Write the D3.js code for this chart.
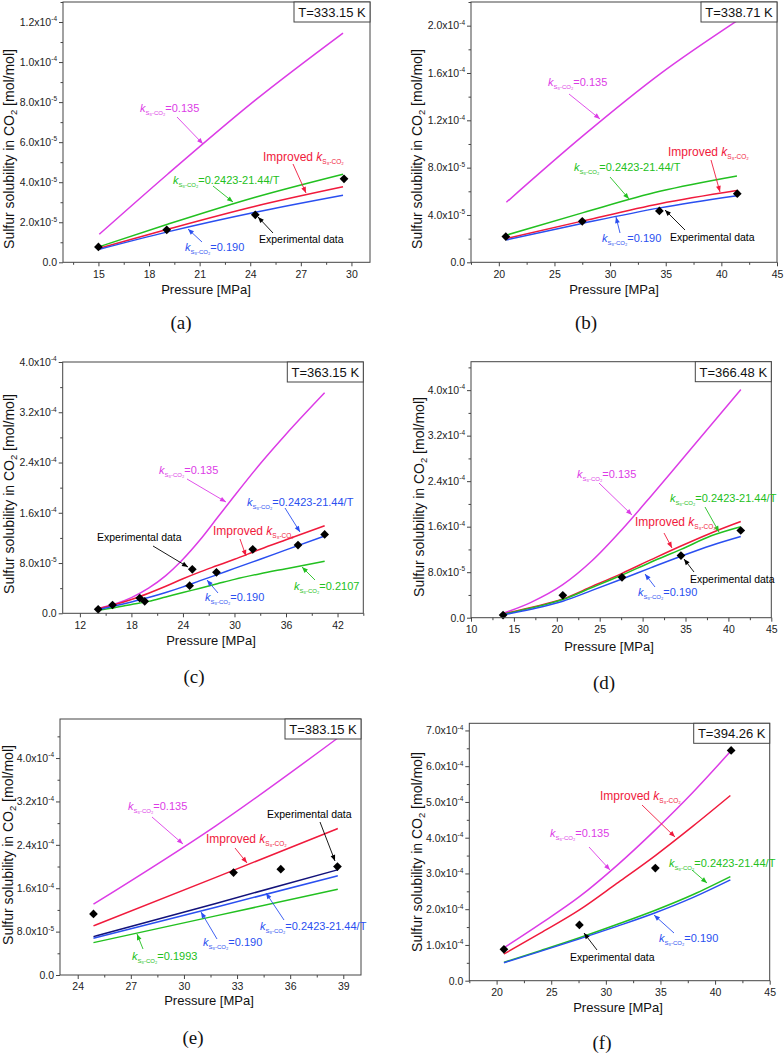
<!DOCTYPE html>
<html><head><meta charset="utf-8">
<script src="https://cdn.jsdelivr.net/npm/d3@7"></script>
<style>
body{margin:0;background:#fff;}
svg text{font-family:Arial,"Liberation Sans",Helvetica,sans-serif;}
svg text.serif{font-family:"Liberation Serif","Times New Roman",Times,serif;}
</style>
</head><body>
<svg id="chart" width="784" height="1054"></svg>
<script>
// ---------------- DATA ----------------
// (a) T = 333.15 K
const aExpP = [15.0, 19.05, 24.3, 29.56];
const aExpY = [7.7e-6, 1.62e-5, 2.37e-5, 4.17e-5];
const aCurveP = [15.05, 19.1, 24.3, 29.5];
const aK135 = [1.4e-5, 4.4e-5, 8.1e-5, 1.145e-4];
const aImproved = [7.0e-6, 1.65e-5, 2.8e-5, 3.77e-5];
const aKT = [7.8e-6, 1.9e-5, 3.25e-5, 4.4e-5];
const aK190 = [6.5e-6, 1.52e-5, 2.5e-5, 3.35e-5];

// (b) T = 338.71 K
const bExpP = [20.63, 27.5, 34.43, 41.43];
const bExpY = [2.17e-5, 3.46e-5, 4.34e-5, 5.8e-5];
const bCurveP = [20.68, 27.58, 34.47, 41.4];
const bK135 = [5.07e-5, 1.07e-4, 1.59e-4, 2.04e-4];
const bImproved = [2.0e-5, 3.5e-5, 4.95e-5, 6.06e-5];
const bKT = [2.3e-5, 4.2e-5, 6.0e-5, 7.3e-5];
const bK190 = [1.89e-5, 3.3e-5, 4.6e-5, 5.63e-5];

// (c) T = 363.15 K
const cExpP = [14.13, 15.8, 18.97, 19.55, 24.78, 25.09, 27.9, 32.13, 37.4, 40.5];
const cExpY = [6.4e-6, 1.32e-5, 2.43e-5, 1.91e-5, 4.39e-5, 7.0e-5, 6.52e-5, 1.018e-4, 1.086e-4, 1.256e-4];
const cCurveP = [14.13, 16, 18, 20, 22, 24, 26, 28, 30, 33, 36, 40.5];
const cK135 = [8e-6, 1.45e-5, 2.5e-5, 4.0e-5, 6.0e-5, 8.6e-5, 1.17e-4, 1.52e-4, 1.87e-4, 2.38e-4, 2.85e-4, 3.51e-4];
const cImproved = [7e-6, 1.35e-5, 2.2e-5, 3.2e-5, 4.3e-5, 5.5e-5, 6.6e-5, 7.6e-5, 8.6e-5, 1.02e-4, 1.17e-4, 1.393e-4];
const cKT = [6e-6, 1.15e-5, 1.8e-5, 2.5e-5, 3.3e-5, 4.2e-5, 5.2e-5, 6.15e-5, 7.15e-5, 8.6e-5, 1.01e-4, 1.23e-4];
const cK2107 = [5e-6, 9e-6, 1.4e-5, 1.9e-5, 2.6e-5, 3.3e-5, 4.0e-5, 4.7e-5, 5.4e-5, 6.3e-5, 7.1e-5, 8.3e-5];

// (d) T = 366.48 K
const dExpP = [13.74, 20.7, 27.6, 34.47, 41.44];
const dExpY = [4.7e-6, 3.94e-5, 7.1e-5, 1.093e-4, 1.533e-4];
const dCurveP = [13.74, 17, 20.7, 24.1, 27.6, 31, 34.47, 38, 41.44];
const dK135 = [7.6e-6, 2.7e-5, 5.8e-5, 1.0e-4, 1.55e-4, 2.14e-4, 2.76e-4, 3.39e-4, 4.01e-4];
const dImproved = [6.5e-6, 1.8e-5, 3.3e-5, 5.5e-5, 7.8e-5, 1.02e-4, 1.26e-4, 1.49e-4, 1.69e-4];
const dKT = [6e-6, 1.7e-5, 3.2e-5, 5.3e-5, 7.5e-5, 9.8e-5, 1.2e-4, 1.44e-4, 1.6e-4];
const dK190 = [5e-6, 1.5e-5, 2.9e-5, 4.8e-5, 6.8e-5, 8.8e-5, 1.08e-4, 1.27e-4, 1.427e-4];

// (e) T = 383.15 K
const eExpP = [24.89, 32.8, 35.47, 38.67];
const eExpY = [1.126e-4, 1.889e-4, 1.951e-4, 2.0e-4];
const eCurveP = [24.89, 31.8, 38.69];
const eK135 = [1.305e-4, 2.75e-4, 4.37e-4];
const eImproved = [9.05e-5, 1.8e-4, 2.7e-4];
const eKT = [7.08e-5, 1.32e-4, 1.94e-4];
const eK190 = [6.77e-5, 1.25e-4, 1.83e-4];
const eK1993 = [5.97e-5, 1.09e-4, 1.58e-4];

// (f) T = 394.26 K
const fExpP = [20.67, 27.58, 34.53, 41.47];
const fExpY = [8.78e-5, 1.56e-4, 3.15e-4, 6.44e-4];
const fCurveP = [20.67, 24, 27.58, 31, 34.53, 38, 41.4];
const fK135 = [9.2e-5, 1.59e-4, 2.35e-4, 3.22e-4, 4.22e-4, 5.28e-4, 6.41e-4];
const fImproved = [7.47e-5, 1.33e-4, 1.98e-4, 2.72e-4, 3.5e-4, 4.33e-4, 5.18e-4];
const fKT = [5.14e-5, 8.4e-5, 1.2e-4, 1.57e-4, 1.97e-4, 2.41e-4, 2.91e-4];
const fK190 = [5.04e-5, 8.2e-5, 1.17e-4, 1.52e-4, 1.9e-4, 2.33e-4, 2.82e-4];

// tick values / labels
const aXTicks = [15, 18, 21, 24, 27, 30];
const bXTicks = [20, 25, 30, 35, 40, 45];
const cXTicks = [12, 18, 24, 30, 36, 42];
const dXTicks = [10, 15, 20, 25, 30, 35, 40, 45];
const eXTicks = [24, 27, 30, 33, 36, 39];
const fXTicks = [20, 25, 30, 35, 40, 45];
const aYTicks = [0, 2e-5, 4e-5, 6e-5, 8e-5, 1e-4, 1.2e-4];
const aYLabels = ["0.0", "2.0x10|-5", "4.0x10|-5", "6.0x10|-5", "8.0x10|-5", "1.0x10|-4", "1.2x10|-4"];
const bYTicks = [0, 4e-5, 8e-5, 1.2e-4, 1.6e-4, 2e-4];
const bYLabels = ["0.0", "4.0x10|-5", "8.0x10|-5", "1.2x10|-4", "1.6x10|-4", "2.0x10|-4"];
const cYTicks = [0, 8e-5, 1.6e-4, 2.4e-4, 3.2e-4, 4e-4];
const cYLabels = ["0.0", "8.0x10|-5", "1.6x10|-4", "2.4x10|-4", "3.2x10|-4", "4.0x10|-4"];
const fYTicks = [0, 1e-4, 2e-4, 3e-4, 4e-4, 5e-4, 6e-4, 7e-4];
const fYLabels = ["0.0", "1.0x10|-4", "2.0x10|-4", "3.0x10|-4", "4.0x10|-4", "5.0x10|-4", "6.0x10|-4", "7.0x10|-4"];
const panelTitles = ["T=333.15 K", "T=338.71 K", "T=363.15 K", "T=366.48 K", "T=383.15 K", "T=394.26 K"];
const panelLetters = ["(a)", "(b)", "(c)", "(d)", "(e)", "(f)"];

// ---------------- STYLE / LAYOUT ----------------
const COL = {mag: "#dc3ce6", red: "#f01a3c", green: "#22c020", blue: "#2a4ff0", navy: "#12127a", black: "#000"};
const SUB = "S\u2088-CO\u2082";

const panels = [
  {xDomain: [12.9, 31.1], yDomain: [0, 1.3e-4], left: 63, right: 370, top: 2, bottom: 262.3,
   xTicks: aXTicks, yTicks: aYTicks, yLabels: aYLabels, expP: aExpP, expY: aExpY,
   series: [[aCurveP, aK135, COL.mag], [aCurveP, aKT, COL.green], [aCurveP, aImproved, COL.red], [aCurveP, aK190, COL.blue]],
   yTitle: [14, 149], xTitle: [206, 294], letter: [181, 329],
   notes: [
     {k: "=0.135", c: COL.mag, x: 140, y: 112, a: [177, 117, 203, 144]},
     {imp: true, c: COL.red, x: 263, y: 161, a: [293, 164, 306, 193]},
     {k: "=0.2423-21.44/T", c: COL.green, x: 173, y: 184, a: [213, 186, 233, 202]},
     {k: "=0.190", c: COL.blue, x: 185, y: 251, a: [202, 242, 188, 229]},
     {t: "Experimental data", c: COL.black, x: 259, y: 243, a: [273, 233, 258, 217]}
   ]},
  {xDomain: [17.5, 45], yDomain: [0, 2.2e-4], left: 471, right: 777, top: 2, bottom: 262.3,
   xTicks: bXTicks, yTicks: bYTicks, yLabels: bYLabels, expP: bExpP, expY: bExpY,
   series: [[bCurveP, bK135, COL.mag], [bCurveP, bKT, COL.green], [bCurveP, bImproved, COL.red], [bCurveP, bK190, COL.blue]],
   yTitle: [422, 149], xTitle: [614, 294], letter: [586, 329],
   notes: [
     {k: "=0.135", c: COL.mag, x: 548, y: 86, a: [569, 94, 600, 119]},
     {imp: true, c: COL.red, x: 668, y: 156, a: [711, 160, 720, 192]},
     {k: "=0.2423-21.44/T", c: COL.green, x: 574, y: 171, a: [610, 177, 629, 199]},
     {k: "=0.190", c: COL.blue, x: 602, y: 242, a: [620, 233, 616, 217]},
     {t: "Experimental data", c: COL.black, x: 670, y: 241, a: [685, 230, 665, 210]}
   ]},
  {xDomain: [10, 45], yDomain: [0, 4e-4], left: 62.7, right: 363.3, top: 362, bottom: 613.3,
   xTicks: cXTicks, yTicks: cYTicks, yLabels: cYLabels, expP: cExpP, expY: cExpY,
   series: [[cCurveP, cK135, COL.mag], [cCurveP, cK2107, COL.green], [cCurveP, cImproved, COL.red], [cCurveP, cKT, COL.blue]],
   yTitle: [14, 494], xTitle: [211, 645], letter: [194, 683],
   notes: [
     {k: "=0.135", c: COL.mag, x: 159, y: 474, a: [187, 479, 226, 502]},
     {k: "=0.2423-21.44/T", c: COL.blue, x: 247, y: 506, a: [285, 508, 300, 532]},
     {imp: true, c: COL.red, x: 213, y: 535, a: [240, 539, 246, 556]},
     {t: "Experimental data", c: COL.black, x: 97, y: 541, a: [153, 546, 188, 567]},
     {k: "=0.190", c: COL.blue, x: 205, y: 601, a: [218, 593, 207, 580]},
     {k: "=0.2107", c: COL.green, x: 294, y: 590, a: [315, 580, 302, 567]}
   ]},
  {xDomain: [10, 45], yDomain: [0, 4.5e-4], left: 471, right: 771.3, top: 361.7, bottom: 617.7,
   xTicks: dXTicks, yTicks: cYTicks, yLabels: cYLabels, expP: dExpP, expY: dExpY,
   series: [[dCurveP, dK135, COL.mag], [dCurveP, dImproved, COL.red], [dCurveP, dKT, COL.green], [dCurveP, dK190, COL.blue]],
   yTitle: [424, 497], xTitle: [609, 651], letter: [604, 689],
   notes: [
     {k: "=0.135", c: COL.mag, x: 577, y: 478, a: [599, 483, 632, 515]},
     {k: "=0.2423-21.44/T", c: COL.green, x: 670, y: 502, a: [705, 507, 719, 532]},
     {imp: true, c: COL.red, x: 635, y: 526, a: [664, 533, 672, 548]},
     {t: "Experimental data", c: COL.black, x: 690, y: 583, a: [694, 572, 684, 559]},
     {k: "=0.190", c: COL.blue, x: 638, y: 596, a: [655, 587, 645, 574]}
   ]},
  {xDomain: [23, 40], yDomain: [0, 4.72e-4], left: 60, right: 361, top: 719, bottom: 975,
   xTicks: eXTicks, yTicks: cYTicks, yLabels: cYLabels, expP: eExpP, expY: eExpY,
   series: [[eCurveP, eK135, COL.mag], [eCurveP, eImproved, COL.red], [eCurveP, eK1993, COL.green], [eCurveP, eK190, COL.blue], [eCurveP, eKT, COL.navy]],
   yTitle: [13, 845], xTitle: [209, 1005], letter: [193, 1044],
   notes: [
     {k: "=0.135", c: COL.mag, x: 128, y: 810, a: [152, 817, 183, 844]},
     {t: "Experimental data", c: COL.black, x: 267, y: 818, a: [320, 822, 335, 861]},
     {imp: true, c: COL.red, x: 206, y: 843, a: [235, 848, 247, 863]},
     {k: "=0.2423-21.44/T", c: COL.blue, x: 260, y: 930, a: [284, 920, 266, 893]},
     {k: "=0.190", c: COL.blue, x: 203, y: 946, a: [217, 939, 201, 912]},
     {k: "=0.1993", c: COL.green, x: 132, y: 960, a: [143, 949, 137, 934]}
   ]},
  {xDomain: [17.5, 45], yDomain: [0, 7.2e-4], left: 469.3, right: 769.7, top: 723.3, bottom: 980.7,
   xTicks: fXTicks, yTicks: fYTicks, yLabels: fYLabels, expP: fExpP, expY: fExpY,
   series: [[fCurveP, fK135, COL.mag], [fCurveP, fImproved, COL.red], [fCurveP, fKT, COL.green], [fCurveP, fK190, COL.blue]],
   yTitle: [422, 852], xTitle: [618, 1012], letter: [602, 1049],
   notes: [
     {imp: true, c: COL.red, x: 600, y: 800, a: [642, 805, 675, 837]},
     {k: "=0.135", c: COL.mag, x: 550, y: 837, a: [589, 847, 610, 870]},
     {k: "=0.2423-21.44/T", c: COL.green, x: 669, y: 867, a: [692, 870, 707, 883]},
     {k: "=0.190", c: COL.blue, x: 659, y: 942, a: [674, 933, 654, 915]},
     {t: "Experimental data", c: COL.black, x: 570, y: 961, a: [597, 950, 584, 933]}
   ]}
];

const svg = d3.select("#chart");
const AX = "#444";

function minorTicks(ticks, domain) {
  const step = ticks[1] - ticks[0];
  const out = [];
  for (let v = ticks[0] - step / 2; v <= domain[1] + 1e-12; v += step) {
    if (v >= domain[0] - 1e-12) out.push(v);
  }
  return out;
}

function arrow(g, x1, y1, x2, y2, color) {
  g.append("line").attr("x1", x1).attr("y1", y1).attr("x2", x2).attr("y2", y2)
    .attr("stroke", color).attr("stroke-width", 0.9);
  const ang = Math.atan2(y2 - y1, x2 - x1);
  const L = 6, W = 2.4;
  const bx = x2 - L * Math.cos(ang), by = y2 - L * Math.sin(ang);
  const px = -Math.sin(ang) * W, py = Math.cos(ang) * W;
  g.append("path").attr("d", `M${x2},${y2}L${bx + px},${by + py}L${bx - px},${by - py}Z`).attr("fill", color);
}

panels.forEach((p, idx) => {
  const x = d3.scaleLinear().domain(p.xDomain).range([p.left, p.right]);
  const y = d3.scaleLinear().domain(p.yDomain).range([p.bottom, p.top]);
  const g = svg.append("g");

  // x axis
  const xa = g.append("g").attr("transform", `translate(0,${p.bottom})`)
    .call(d3.axisBottom(x).tickValues(p.xTicks).tickSize(4).tickPadding(4).tickFormat(d3.format("d")));
  const xm = g.append("g").attr("transform", `translate(0,${p.bottom})`)
    .call(d3.axisBottom(x).tickValues(minorTicks(p.xTicks, p.xDomain)).tickSize(2.5).tickFormat(""));
  // y axis
  const ya = g.append("g").attr("transform", `translate(${p.left},0)`)
    .call(d3.axisLeft(y).tickValues(p.yTicks).tickSize(4).tickFormat(""));
  const ym = g.append("g").attr("transform", `translate(${p.left},0)`)
    .call(d3.axisLeft(y).tickValues(minorTicks(p.yTicks, p.yDomain)).tickSize(2.5).tickFormat(""));
  [xa, xm, ya, ym].forEach(a => {
    a.select(".domain").remove();
    a.selectAll("line").attr("stroke", AX);
    a.selectAll("text").attr("font-size", 10.5).attr("fill", "#222");
  });
  // y tick labels with superscript
  p.yTicks.forEach((v, i) => {
    const parts = p.yLabels[i].split("|");
    const t = g.append("text").attr("x", p.left - 6).attr("y", y(v) + 3.8)
      .attr("text-anchor", "end").attr("font-size", 10.5).attr("fill", "#222");
    t.append("tspan").text(parts[0]);
    if (parts[1]) t.append("tspan").attr("font-size", 6.5).attr("dy", -4.5).text(parts[1]);
  });

  // curves
  const line = d3.line().x(d => x(d[0])).y(d => y(d[1])).curve(d3.curveMonotoneX);
  p.series.forEach(s => {
    g.append("path").datum(d3.zip(s[0], s[1])).attr("d", line)
      .attr("fill", "none").attr("stroke", s[2]).attr("stroke-width", 1.5);
  });
  // experimental points
  g.selectAll(null).data(d3.zip(p.expP, p.expY)).join("path")
    .attr("d", d3.symbol(d3.symbolSquare, 38)())
    .attr("transform", d => `translate(${x(d[0])},${y(d[1])}) rotate(45)`)
    .attr("fill", "#000");

  // frame
  g.append("rect").attr("x", p.left).attr("y", p.top)
    .attr("width", p.right - p.left).attr("height", p.bottom - p.top)
    .attr("fill", "none").attr("stroke", AX).attr("stroke-width", 1);

  // annotations
  p.notes.forEach(n => {
    const t = g.append("text").attr("x", n.x).attr("y", n.y).attr("fill", n.c);
    if (n.t) {
      t.attr("font-size", 10.5).text(n.t);
    } else if (n.imp) {
      t.append("tspan").attr("font-size", 12).text("Improved ");
      t.append("tspan").attr("font-size", 12).attr("font-style", "italic").text("k");
      t.append("tspan").attr("font-size", 6.5).attr("dy", 2.5).text(SUB);
    } else {
      t.append("tspan").attr("font-size", 11).attr("font-style", "italic").text("k");
      t.append("tspan").attr("font-size", 6).attr("dy", 2.5).text(SUB);
      t.append("tspan").attr("font-size", 11).attr("dy", -2.5).text(n.k);
    }
    arrow(g, n.a[0], n.a[1], n.a[2], n.a[3], n.c);
  });

  // title box
  const bw = 76, bh = 20;
  g.append("rect").attr("x", p.right - bw).attr("y", p.top).attr("width", bw).attr("height", bh)
    .attr("fill", "#fff").attr("stroke", AX).attr("stroke-width", 1);
  g.append("text").attr("x", p.right - bw / 2).attr("y", p.top + 15).attr("text-anchor", "middle")
    .attr("font-size", 13).attr("fill", "#111").text(panelTitles[idx]);

  // axis titles
  g.append("text").attr("x", p.xTitle[0]).attr("y", p.xTitle[1]).attr("text-anchor", "middle")
    .attr("font-size", 13).attr("fill", "#111").text("Pressure [MPa]");
  const yt = g.append("text").attr("transform", `translate(${p.yTitle[0]},${p.yTitle[1]}) rotate(-90)`)
    .attr("text-anchor", "middle").attr("font-size", 14).attr("fill", "#111");
  yt.append("tspan").text("Sulfur solubility in CO");
  yt.append("tspan").attr("font-size", 9.5).attr("dy", 3).text("2");
  yt.append("tspan").attr("dy", -3).text(" [mol/mol]");

  // panel letter
  svg.append("text").attr("class", "serif").attr("x", p.letter[0]).attr("y", p.letter[1])
    .attr("text-anchor", "middle").attr("font-size", 19)
    .attr("fill", "#111").text(panelLetters[idx]);
});
</script>
</body></html>
